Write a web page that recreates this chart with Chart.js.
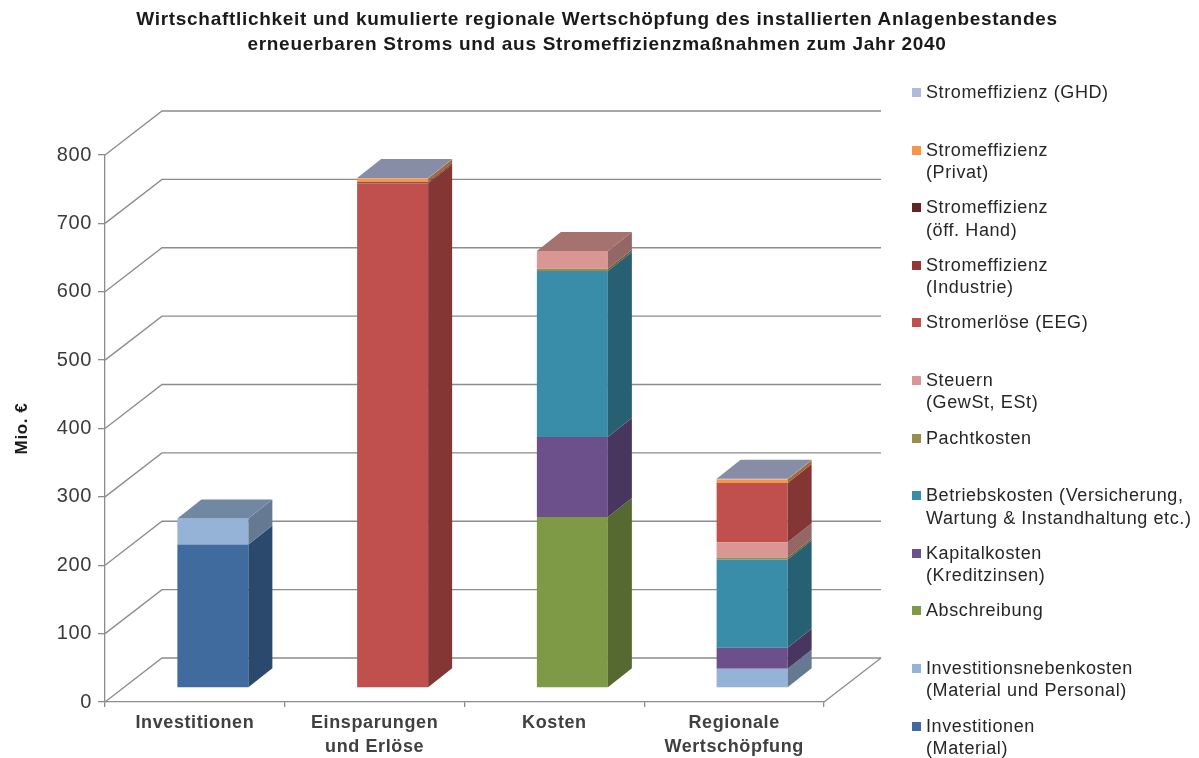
<!DOCTYPE html>
<html lang="de">
<head>
<meta charset="utf-8">
<title>Wirtschaftlichkeit und regionale Wertschöpfung 2040</title>
<script src="https://cdn.jsdelivr.net/npm/chart.js@4.4.1/dist/chart.umd.min.js"></script>
<style>
  html, body { margin: 0; padding: 0; background: #fff; }
  #wrap { position: relative; width: 1199px; height: 758px; overflow: hidden; }
  #grafico { position: absolute; left: 0; top: 0; }
  #titel {
    position: absolute; left: 0; top: 6px; width: 1194px; margin: 0; text-align: center;
    font: bold 19px "Liberation Sans", Arial, sans-serif; line-height: 25px; letter-spacing: 0.7px; color: #1a1a1a;
    white-space: pre-line;
  }
  #legende {
    position: absolute; left: 912px; top: 81px; margin: 0; padding: 0; list-style: none;
    font: 18px "Liberation Sans", Arial, sans-serif; letter-spacing: 0.6px; color: #262626;
  }
  #legende li { position: relative; height: 57.6px; padding-left: 14px; line-height: 22.5px; white-space: pre-line; }
  #legende span { position: absolute; left: 0; top: 7px; width: 9px; height: 9px; }
</style>
</head>
<body>
<div id="wrap">
  <canvas id="grafico" width="1199" height="758"></canvas>
  <h1 id="titel"></h1>
  <ul id="legende"></ul>
</div>
<script>
// Kategorien und Werte (Mio. €)
const kategorien = [['Investitionen'], ['Einsparungen', 'und Erlöse'], ['Kosten'], ['Regionale', 'Wertschöpfung']];
const mioTicks = [0, 100, 200, 300, 400, 500, 600, 700, 800];

const investitionen   = [210, 0, 0, 0];
const nebenkosten     = [38, 0, 0, 28];
const abschreibung    = [0, 0, 250, 0];
const kapitalkosten   = [0, 0, 117, 31];
const betriebskosten  = [0, 0, 243, 129];
const pachtkosten     = [0, 0, 3, 3];
const steuern         = [0, 0, 26, 22];
const stromerloese    = [0, 738, 0, 87];
const effIndustrie    = [0, 1, 0, 0];
const effOeffHand     = [0, 1, 0, 0];
const effPrivat       = [0, 5, 0, 5];
const effGHD          = [0, 1, 0, 1];

const titelZeilen = [
  'Wirtschaftlichkeit und kumulierte regionale Wertschöpfung des installierten Anlagenbestandes',
  'erneuerbaren Stroms und aus Stromeffizienzmaßnahmen zum Jahr 2040'
];

// Reihen von unten nach oben gestapelt
const reihen = [
  { label: 'Investitionen\n(Material)', data: investitionen, farbe: '#3F6B9F' },
  { label: 'Investitionsnebenkosten\n(Material und Personal)', data: nebenkosten, farbe: '#95B3D7' },
  { label: 'Abschreibung', data: abschreibung, farbe: '#7E9A47' },
  { label: 'Kapitalkosten\n(Kreditzinsen)', data: kapitalkosten, farbe: '#6B508C' },
  { label: 'Betriebskosten (Versicherung,\nWartung & Instandhaltung etc.)', data: betriebskosten, farbe: '#3A8DA8' },
  { label: 'Pachtkosten', data: pachtkosten, farbe: '#9A8C4E' },
  { label: 'Steuern\n(GewSt, ESt)', data: steuern, farbe: '#DA9694' },
  { label: 'Stromerlöse (EEG)', data: stromerloese, farbe: '#C0504D' },
  { label: 'Stromeffizienz\n(Industrie)', data: effIndustrie, farbe: '#943634' },
  { label: 'Stromeffizienz\n(öff. Hand)', data: effOeffHand, farbe: '#632523' },
  { label: 'Stromeffizienz\n(Privat)', data: effPrivat, farbe: '#F79646' },
  { label: 'Stromeffizienz (GHD)', data: effGHD, farbe: '#B1B9DC' }
];

// Versatz für die 3D-Optik: Rückwand, Vorderseite der Säulen, Säulentiefe
const tiefe = { wandX: 57, wandY: -44, vorneX: 18, vorneY: -14, saeuleX: 24, saeuleY: -19 };
const linienFarbe = '#8c8c8c';

function abdunkeln(hex, f) {
  const n = parseInt(hex.slice(1), 16);
  const r = Math.round(((n >> 16) & 255) * f);
  const g = Math.round(((n >> 8) & 255) * f);
  const b = Math.round((n & 255) * f);
  return 'rgb(' + r + ',' + g + ',' + b + ')';
}

// etwas breitere Schrift auf dem Canvas
const sperrung = {
  id: 'sperrung',
  beforeUpdate(chart) { chart.ctx.letterSpacing = '0.6px'; },
  beforeDraw(chart) { chart.ctx.letterSpacing = '0.6px'; }
};

const raster3d = {
  id: 'raster3d',
  beforeDatasetsDraw(chart) {
    const { ctx, chartArea: a, scales: { y } } = chart;
    ctx.save();
    ctx.strokeStyle = linienFarbe;
    ctx.lineWidth = 1.3;
    ctx.beginPath();
    y.ticks.forEach(t => {
      const py = y.getPixelForValue(t.value);
      ctx.moveTo(a.left, py);
      ctx.lineTo(a.left + tiefe.wandX, py + tiefe.wandY);
      ctx.lineTo(a.right + tiefe.wandX, py + tiefe.wandY);
    });
    // rechte Bodenkante
    ctx.moveTo(a.right, a.bottom);
    ctx.lineTo(a.right + tiefe.wandX, a.bottom + tiefe.wandY);
    ctx.stroke();
    ctx.restore();

    // Säulen stehen etwas hinter der Vorderkante
    ctx.save();
    ctx.translate(tiefe.vorneX, tiefe.vorneY);
  },
  afterDatasetsDraw(chart) {
    const { ctx } = chart;
    const dx = tiefe.saeuleX, dy = tiefe.saeuleY;
    const oben = [];
    chart.data.datasets.forEach((ds, i) => {
      const meta = chart.getDatasetMeta(i);
      meta.data.forEach((bar, j) => {
        if (!ds.data[j]) return;
        const p = bar.getProps(['x', 'y', 'base', 'width'], true);
        const r = p.x + p.width / 2;
        // Seitenfläche
        ctx.fillStyle = abdunkeln(ds.backgroundColor, 0.68);
        ctx.beginPath();
        ctx.moveTo(r, p.base);
        ctx.lineTo(r + dx, p.base + dy);
        ctx.lineTo(r + dx, p.y + dy);
        ctx.lineTo(r, p.y);
        ctx.closePath();
        ctx.fill();
        oben[j] = { x: p.x, y: p.y, w: p.width, farbe: ds.backgroundColor };
      });
    });
    // Deckfläche der obersten Reihe
    oben.forEach(t => {
      if (!t) return;
      const l = t.x - t.w / 2, r = t.x + t.w / 2;
      ctx.fillStyle = abdunkeln(t.farbe, 0.76);
      ctx.beginPath();
      ctx.moveTo(l, t.y);
      ctx.lineTo(l + dx, t.y + dy);
      ctx.lineTo(r + dx, t.y + dy);
      ctx.lineTo(r, t.y);
      ctx.closePath();
      ctx.fill();
    });
    ctx.restore();
  }
};

Chart.defaults.font.family = '"Liberation Sans", Arial, sans-serif';

document.getElementById('titel').textContent = titelZeilen.join('\n');

const grafico = new Chart(document.getElementById('grafico'), {
  type: 'bar',
  data: {
    labels: kategorien,
    datasets: reihen.map(r => ({
      label: r.label,
      data: r.data,
      backgroundColor: r.farbe,
      borderWidth: 0,
      categoryPercentage: 1,
      barPercentage: 0.395,
      clip: false
    }))
  },
  options: {
    responsive: false,
    animation: false,
    layout: { padding: { left: 8, right: 375, top: 155, bottom: 0 } },
    plugins: {
      legend: { display: false },
      tooltip: { enabled: false },
      title: { display: false }
    },
    scales: {
      x: {
        stacked: true,
        afterFit: s => { s.height = 56; },
        border: { color: linienFarbe, width: 1.3 },
        grid: { drawOnChartArea: false, drawTicks: true, tickLength: 5, color: linienFarbe, lineWidth: 1.3, offset: true },
        ticks: { padding: 4, color: '#404040', maxRotation: 0, autoSkip: false,
                 font: { size: 18, weight: 'bold', lineHeight: 1.33 } }
      },
      y: {
        stacked: true,
        min: 0,
        max: 800,
        afterBuildTicks: s => { s.ticks = mioTicks.map(v => ({ value: v })); },
        afterFit: s => { s.width = 97; },
        border: { color: linienFarbe, width: 1.3 },
        grid: { drawOnChartArea: false, drawTicks: true, tickLength: 7, color: linienFarbe, lineWidth: 1.3 },
        ticks: { padding: 6, color: '#3a3a3a', font: { size: 20 } },
        title: { display: true, text: 'Mio. €', color: '#1a1a1a',
                 font: { size: 17, weight: 'bold' }, padding: { top: 4, bottom: 4 } }
      }
    }
  },
  plugins: [sperrung, raster3d]
});

// Legende als Liste, oberste Reihe zuerst
const legende = document.getElementById('legende');
grafico.options.plugins.legend.labels.generateLabels(grafico).reverse().forEach(item => {
  const li = document.createElement('li');
  const box = document.createElement('span');
  box.style.background = item.fillStyle;
  li.appendChild(box);
  li.appendChild(document.createTextNode(item.text));
  legende.appendChild(li);
});
</script>
</body>
</html>
